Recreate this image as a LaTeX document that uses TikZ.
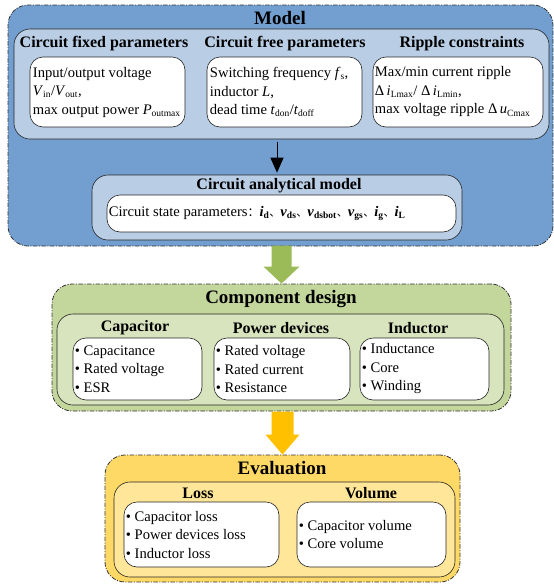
\documentclass[tikz,border=0pt]{standalone}
\usepackage{fontspec}
\setmainfont{Liberation Serif}
\newfontfamily\cjk{Noto Sans CJK SC}
\usetikzlibrary{fit,arrows.meta}
\definecolor{mblue}{HTML}{729FCF}
\definecolor{lblue}{HTML}{B9CDE5}
\definecolor{mgreen}{HTML}{C3D69B}
\definecolor{lgreen}{HTML}{D7E4BD}
\definecolor{agreen}{HTML}{9BBB59}
\definecolor{morange}{HTML}{FFD966}
\definecolor{lorange}{HTML}{FFE699}
\definecolor{aorange}{HTML}{FFC000}
\newcommand\sbs[1]{\textsubscript{\fontsize{9.5}{10}\selectfont #1}}
\newcommand\bi[2]{\textbf{\textit{#1}}\textsubscript{\fontsize{9.5}{10}\selectfont\textbf{#2}}}
\tikzset{
  outerbox/.style={draw=black!80, line width=0.8pt, dash pattern=on 4.5pt off 1.5pt on 1pt off 1.5pt, rounded corners=20pt, inner sep=0pt},
  innerbox/.style={draw=black!85, line width=0.6pt, rounded corners=16pt, inner sep=0pt},
  whitebox/.style={draw=black!85, fill=white, line width=0.6pt, rounded corners=13pt, inner sep=0pt},
  titletext/.style={font=\fontsize{19}{22}\selectfont\bfseries, inner sep=0pt},
  headtext/.style={font=\fontsize{16}{18}\selectfont\bfseries, inner sep=0pt},
  bodytext/.style={font=\fontsize{14.6}{18.5}\selectfont, align=left, anchor=west, inner sep=0pt},
}
\begin{document}
\begin{tikzpicture}[x=1pt,y=-1pt]
\useasboundingbox (0,0) rectangle (554,584);
% ---------------- Model ----------------
\node[outerbox, fill=mblue, fit={(8,5) (553,246)}] (model) {};
\node[titletext] (modelT) at (280,18) {Model};
\node[innerbox, fill=lblue, fit={(14,29) (549,139)}] (modelin) {};
\node[headtext] (h1) at (104,44) {Circuit fixed parameters};
\node[headtext] (h2) at (285,44) {Circuit free parameters};
\node[headtext] (h3) at (462,44) {Ripple constraints};
\node[whitebox, fit={(30,57) (185,127)}] (w1) {};
\node[whitebox, fit={(207,57) (362,127)}] (w2) {};
\node[whitebox, fit={(373,57) (543,127)}] (w3) {};
\node[bodytext] (t1) at ([xshift=3pt]w1.west) {Input/output voltage\\ \textit{V}\sbs{in}/\textit{V}\sbs{out},\\ max output power \textit{P}\sbs{outmax}};
\node[bodytext] (t2) at ([xshift=3pt]w2.west) {Switching frequency \textit{f}\sbs{s},\\ inductor \textit{L},\\ dead time \textit{t}\sbs{don}/\textit{t}\sbs{doff}};
\node[bodytext] (t3) at ([xshift=2pt]w3.west) {Max/min current ripple\\ Δ\,\textit{i}\sbs{Lmax}/ Δ\,\textit{i}\sbs{Lmin},\\ max voltage ripple Δ\,\textit{u}\sbs{Cmax}};
\node[innerbox, fill=lblue, fit={(92,175) (462,240)}] (ana) {};
\node[headtext] (anaT) at (279,186) {Circuit analytical model};
\node[whitebox, fit={(107,195) (456,232)}] (wa) {};
\node[bodytext] (ta) at ([xshift=2pt]wa.west) {Circuit state parameters{\cjk\fontsize{12}{14}\selectfont ：}\bi{i}{d}{\cjk\fontsize{11}{14}\selectfont 、}\bi{v}{ds}{\cjk\fontsize{11}{14}\selectfont 、}\bi{v}{dsbot}{\cjk\fontsize{11}{14}\selectfont 、}\bi{v}{gs}{\cjk\fontsize{11}{14}\selectfont 、}\bi{i}{g}{\cjk\fontsize{11}{14}\selectfont 、}\bi{i}{L}};
\draw[line width=1pt, -{Triangle[length=15pt,width=13pt]}, shorten <=3pt, shorten >=2pt] (modelin.south -| ana.north) -- (ana.north);
% ---------------- Component design ----------------
\node[outerbox, fill=mgreen, fit={(52,284) (511,411)}] (comp) {};
\node[titletext] (compT) at (281,299) {Component design};
\node[innerbox, fill=lgreen, fit={(57,314) (504,405)}] (compin) {};
\node[headtext] (c1) at (135,328) {Capacitor};
\node[headtext] (c2) at (281,328) {Power devices};
\node[headtext] (c3) at (418,328) {Inductor};
\node[whitebox, fit={(73,338) (202,400)}] (cw1) {};
\node[whitebox, fit={(214,338) (350,400)}] (cw2) {};
\node[whitebox, fit={(360,338) (489,400)}] (cw3) {};
\node[bodytext] (ct1) at ([xshift=2pt]cw1.west) {• Capacitance\\ • Rated voltage\\ • ESR};
\node[bodytext] (ct2) at ([xshift=2pt]cw2.west) {• Rated voltage\\ • Rated current\\ • Resistance};
\node[bodytext] (ct3) at ([xshift=2pt]cw3.west) {• Inductance\\ • Core\\ • Winding};
% green block arrow
\fill[agreen] ([shift={(-10,-38)}]comp.north) -- ([shift={(10,-38)}]comp.north) -- ([shift={(10,-17)}]comp.north) -- ([shift={(18,-17)}]comp.north) -- (comp.north) -- ([shift={(-18,-17)}]comp.north) -- ([shift={(-10,-17)}]comp.north) -- cycle;
% ---------------- Evaluation ----------------
\node[outerbox, fill=morange, fit={(105,455) (460,582)}] (eval) {};
\node[titletext] (evalT) at (282,468) {Evaluation};
\node[innerbox, fill=lorange, fit={(114,482) (455,577)}] (evalin) {};
\node[headtext] (e1) at (198,493) {Loss};
\node[headtext] (e2) at (371,493) {Volume};
\node[whitebox, fit={(124,502) (279,567)}] (ew1) {};
\node[whitebox, fit={(297,502) (446,567)}] (ew2) {};
\node[bodytext] (et1) at ([xshift=2pt]ew1.west) {• Capacitor loss\\ • Power devices loss\\ • Inductor loss};
\node[bodytext] (et2) at ([xshift=2pt]ew2.west) {• Capacitor volume\\ • Core volume};
% orange block arrow
\fill[aorange] ([shift={(-11,-43)}]eval.north) -- ([shift={(11,-43)}]eval.north) -- ([shift={(11,-20)}]eval.north) -- ([shift={(17,-20)}]eval.north) -- (eval.north) -- ([shift={(-17,-20)}]eval.north) -- ([shift={(-11,-20)}]eval.north) -- cycle;
\end{tikzpicture}
\end{document}
